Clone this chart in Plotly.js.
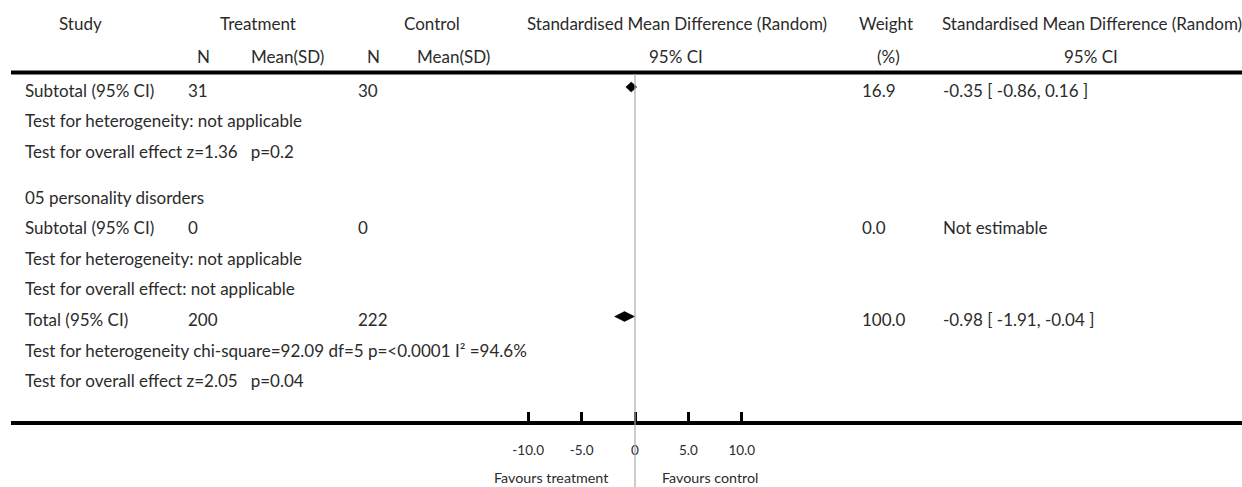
<!DOCTYPE html>
<html>
<head>
<meta charset="utf-8">
<script src="https://cdn.plot.ly/plotly-3.0.1.min.js"></script>
<style>html,body{margin:0;padding:0;background:#fff;}#chart{width:1242px;height:487px;}</style>
</head>
<body>
<div id="chart"></div>
<script>
// ---------- data ----------
const headerRow1 = ["Study", "Treatment", "Control", "Standardised Mean Difference (Random)", "Weight", "Standardised Mean Difference (Random)"];
const headerRow2 = ["N", "Mean(SD)", "N", "Mean(SD)", "95% CI", "(%)", "95% CI"];
const rowLabels = [
  "Subtotal (95% CI)",
  "Test for heterogeneity: not applicable",
  "Test for overall effect z=1.36   p=0.2",
  "05 personality disorders",
  "Subtotal (95% CI)",
  "Test for heterogeneity: not applicable",
  "Test for overall effect: not applicable",
  "Total (95% CI)",
  "Test for heterogeneity chi-square=92.09 df=5 p=<0.0001 I² =94.6%",
  "Test for overall effect z=2.05   p=0.04"
];
const treatN   = ["31", "", "", "", "0", "", "", "200", "", ""];
const controlN = ["30", "", "", "", "0", "", "", "222", "", ""];
const weights  = ["16.9", "", "", "", "0.0", "", "", "100.0", "", ""];
const ciText   = ["-0.35 [ -0.86, 0.16 ]", "", "", "", "Not estimable", "", "", "-0.98 [ -1.91, -0.04 ]", "", ""];
const diamondRows = [0, 7];
const diamondEst = [-0.35, -0.98];
const diamondLo  = [-0.86, -1.91];
const diamondHi  = [0.16, -0.04];
const tickVals  = [-10, -5, 0, 5, 10];
const tickLabels = ["-10.0", "-5.0", "0", "5.0", "10.0"];
const favours = ["Favours treatment", "Favours control"];

// ---------- layout helpers ----------
const W = 1242, H = 487;
const FONT = "Lato, 'Open Sans', sans-serif";
const TXT = "#2b2b2b";
const FS = 17;
const zeroPx = 635, pxPerUnit = 10.68, axisLeftPx = 11;
const rowPx = 30.6, row0Px = 87;          // diamond centre of first row
const textDrop = 3;                          // text box centre below diamond centre
const groupBreakIndex = 3;                   // extra half-row gap before this row
function rowPos(i) { return i + (i >= groupBreakIndex ? 0.5 : 0); }
const px = x => x / W;
const py = y => 1 - y / H;

const annotations = [];
function ann(text, xPx, yPx, anchor, size) {
  annotations.push({text: text, xref: "paper", yref: "paper", x: px(xPx), y: py(yPx),
    xanchor: anchor, yanchor: "middle", showarrow: false,
    font: {family: FONT, size: size || FS, color: TXT}});
}
// headers (centre positions)
const h1x = [80, 258, 432, 677, 886, 1092];
headerRow1.forEach((t, i) => ann(t, h1x[i], 23.5, "center"));
const h2x = [203, 287, 373, 453, 676, 888, 1091];
headerRow2.forEach((t, i) => ann(t, h2x[i], 56.5, "center"));

// body rows
function rowAnn(text, xPx, i) {
  if (!text) return;
  annotations.push({text: text, xref: "paper", yref: "y", x: px(xPx), y: rowPos(i),
    yshift: -textDrop, xanchor: "left", yanchor: "middle", showarrow: false,
    font: {family: FONT, size: FS, color: TXT}});
}
rowLabels.forEach((t, i) => rowAnn(t, 23, i));
treatN.forEach((t, i) => rowAnn(t, 186, i));
controlN.forEach((t, i) => rowAnn(t, 356, i));
weights.forEach((t, i) => rowAnn(t, 860, i));
ciText.forEach((t, i) => rowAnn(t, 941, i));

// favours labels
annotations.push({text: favours[0], xref: "x", yref: "paper", x: 0, xshift: -25, y: py(477),
  xanchor: "right", yanchor: "middle", showarrow: false, font: {family: FONT, size: 14.3, color: TXT}});
annotations.push({text: favours[1], xref: "x", yref: "paper", x: 0, xshift: 25, y: py(477),
  xanchor: "left", yanchor: "middle", showarrow: false, font: {family: FONT, size: 14.3, color: TXT}});

// diamonds
const halfH = 5 / rowPx;
const traces = diamondRows.map((r, k) => {
  const y = rowPos(r);
  return {
    type: "scatter", mode: "lines", fill: "toself", fillcolor: "#000",
    line: {color: "#000", width: 0.5},
    x: [diamondLo[k], diamondEst[k], diamondHi[k], diamondEst[k], diamondLo[k]],
    y: [y, y - halfH, y, y + halfH, y],
    hoverinfo: "skip", showlegend: false
  };
});

const xLeft = (axisLeftPx - zeroPx) / pxPerUnit;
const xRight = (W - zeroPx) / pxPerUnit;
const yTop = -row0Px / rowPx;
const yBottom = (H - row0Px) / rowPx;

const layout = {
  width: W, height: H,
  margin: {l: 0, r: 0, t: 0, b: 0, pad: 0},
  paper_bgcolor: "#fff", plot_bgcolor: "#fff",
  showlegend: false,
  xaxis: {
    domain: [axisLeftPx / W, 1], range: [xLeft, xRight],
    anchor: "free", position: (H - 423) / H,
    showline: true, linewidth: 4, linecolor: "#000",
    ticks: "inside", ticklen: 9, tickwidth: 3, tickcolor: "#000",
    tickvals: tickVals, ticktext: tickLabels,
    ticklabelstandoff: 14,
    tickfont: {family: FONT, size: 13.5, color: TXT},
    showgrid: false, zeroline: false, fixedrange: true
  },
  yaxis: {
    domain: [0, 1], range: [yBottom, yTop], visible: false,
    showgrid: false, zeroline: false, fixedrange: true
  },
  shapes: [
    {type: "line", xref: "paper", yref: "paper", x0: axisLeftPx / W, x1: 1, y0: py(72.5), y1: py(72.5),
     line: {color: "#000", width: 4}},
    {type: "line", xref: "x", yref: "paper", x0: 0, x1: 0, y0: 0, y1: py(74),
     line: {color: "#aaaaaa", width: 1.2}, layer: "above"}
  ],
  annotations: annotations
};

Plotly.newPlot("chart", traces, layout, {displayModeBar: false, staticPlot: true});
</script>
</body>
</html>
